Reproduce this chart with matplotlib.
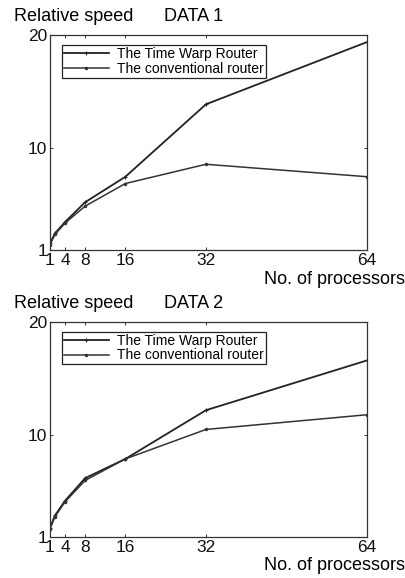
import numpy as np
import matplotlib.pyplot as plt

plt.rcParams['font.family'] = ['Liberation Sans', 'DejaVu Sans']

# processors
procs = [1, 2, 4, 8, 16, 32, 64]

# relative speed, DATA 1
tw1 = [1.6, 2.5, 3.5, 5.25, 7.5, 13.9, 19.4]
conv1 = [1.5, 2.4, 3.4, 4.9, 6.9, 8.6, 7.5]

# relative speed, DATA 2
tw2 = [1.8, 2.9, 4.2, 6.2, 7.9, 12.2, 16.6]
conv2 = [1.7, 2.8, 4.1, 6.0, 7.9, 10.5, 11.8]

xticks = [1, 4, 8, 16, 32, 64]
yticks = [1, 10, 20]
titles = ["DATA 1", "DATA 2"]

fig = plt.figure(figsize=(4.06, 5.78), dpi=100)
ax1 = fig.add_axes([0.123, 0.567, 0.781, 0.372])
ax2 = fig.add_axes([0.123, 0.071, 0.781, 0.372])

for ax, tw, conv, ttl in [(ax1, tw1, conv1, titles[0]), (ax2, tw2, conv2, titles[1])]:
    ax.plot(procs, tw, color='#222222', lw=1.3, marker='+', ms=3, mew=0.8,
            label='The Time Warp Router')
    ax.plot(procs, conv, color='#333333', lw=1.1, marker='.', ms=3,
            label='The conventional router')
    ax.set_xlim(1, 64)
    ax.set_ylim(1, 20)
    ax.set_xticks(xticks)
    ax.set_yticks(yticks)
    ax.tick_params(direction='in', length=2, width=0.6, labelsize=12.5,
                   pad=2, top=True, right=True, colors='#111111')
    for s in ax.spines.values():
        s.set_linewidth(0.9)
        s.set_color('#333333')
    leg = ax.legend(loc='upper left', bbox_to_anchor=(0.038, 0.955),
                    borderaxespad=0, fontsize=10, handlelength=3.2,
                    labelspacing=0.05, borderpad=0.15, handletextpad=0.6,
                    fancybox=False, framealpha=1)
    leg.get_frame().set_edgecolor('#222222')
    leg.get_frame().set_linewidth(0.9)
    pos = ax.get_position()
    fig.text(0.035, pos.y1 + 0.018, "Relative speed", fontsize=13, ha='left', va='bottom')
    fig.text(0.405, pos.y1 + 0.018, ttl, fontsize=13, ha='left', va='bottom')
    fig.text(0.997, pos.y0 - 0.035, "No. of processors", fontsize=13, ha='right', va='top')

fig.savefig('out.png', dpi=100)
